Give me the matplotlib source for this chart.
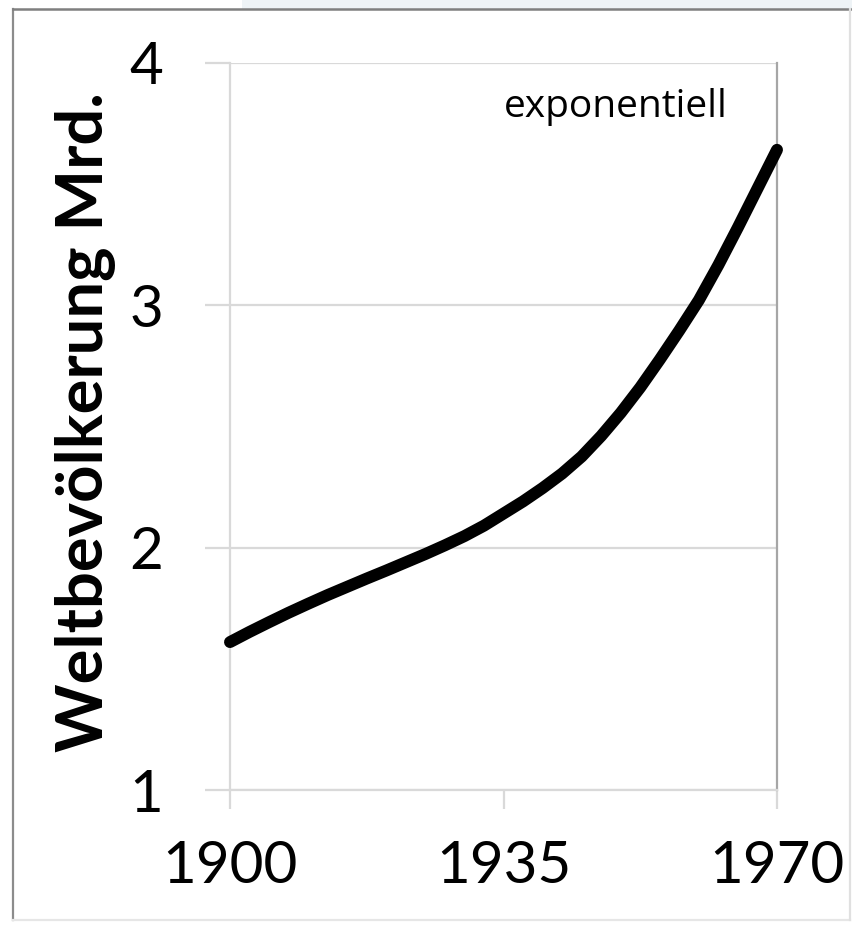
import matplotlib
matplotlib.use('Agg')
import matplotlib.pyplot as plt
from matplotlib.patches import Rectangle
from matplotlib.lines import Line2D

# world population (billions)
years = [1900, 1902.5, 1905, 1907.5, 1910, 1912.5, 1915, 1917.5,
         1920, 1922.5, 1925, 1927.5, 1930, 1932.5, 1935, 1937.5,
         1940, 1942.5, 1945, 1947.5, 1950, 1952.5, 1955, 1957.5,
         1960, 1962.5, 1965, 1967.5, 1970]
population = [1.61, 1.652, 1.692, 1.731, 1.768, 1.804, 1.838, 1.872,
              1.905, 1.939, 1.973, 2.009, 2.047, 2.09, 2.14, 2.19,
              2.245, 2.305, 2.375, 2.46, 2.555, 2.66, 2.775, 2.895,
              3.02, 3.165, 3.32, 3.48, 3.64]
x_ticks = [1900, 1935, 1970]
y_ticks = [1, 2, 3, 4]
y_label = 'Weltbevölkerung Mrd.'
note = 'exponentiell'

W, H = 852, 927
grid_col = '#d9d9d9'

fig = plt.figure(figsize=(W / 100, H / 100), dpi=100)
fig.patch.set_facecolor('white')

# light strip at the top and the grey frame around the chart
fig.patches.append(Rectangle((242 / W, 1 - 9 / H), 1, 9 / H, transform=fig.transFigure,
                             facecolor='#eef3f6', edgecolor='none', zorder=0))
x0, x1, y0, y1 = 13 / W, 850 / W, 1 - 920 / H, 1 - 9 / H
fig.lines.append(Line2D([x0, x0], [y0, y1], transform=fig.transFigure, color='#8c8c8c', linewidth=1.6))
fig.lines.append(Line2D([x0, 1], [y1, y1], transform=fig.transFigure, color='#7f7f7f', linewidth=1.8))
fig.lines.append(Line2D([x0, x1], [y0, y0], transform=fig.transFigure, color='#e6e6e6', linewidth=1.6))
fig.lines.append(Line2D([x1, x1], [y0, y1], transform=fig.transFigure, color='#e0e0e0', linewidth=1.6))

ax = fig.add_axes([230 / W, 1 - 790 / H, 547 / W, 727.5 / H])
ax.plot(years, population, color='black', linewidth=8.6,
        solid_capstyle='round', solid_joinstyle='round', clip_on=False, zorder=5)

ax.set_xlim(1900, 1970)
ax.set_ylim(1, 4)
ax.set_xticks(x_ticks)
ax.set_yticks(y_ticks)
ax.yaxis.grid(True, color=grid_col, linewidth=1.6)
ax.set_axisbelow(True)

for side in ['left', 'bottom']:
    ax.spines[side].set_color(grid_col)
    ax.spines[side].set_linewidth(1.6)
ax.spines['top'].set_visible(False)
ax.spines['right'].set_color('#a6a6a6')
ax.spines['right'].set_linewidth(1.6)

ax.tick_params(axis='y', length=18, width=1.6, color=grid_col, pad=30,
               labelsize=42, labelfontfamily='Lato')
ax.tick_params(axis='x', length=14, width=1.6, color=grid_col, pad=22,
               labelsize=42, labelfontfamily='Lato')

fig.text(86 / W, 1 - 422.5 / H, y_label, rotation=90, ha='center', va='center',
         fontsize=47, fontweight='bold', family='Lato')
fig.text(728 / W, 1 - 117 / H, note, ha='right', va='baseline',
         fontsize=28, family='Open Sans')

plt.savefig('out.png', dpi=100, facecolor='white')
plt.close()
